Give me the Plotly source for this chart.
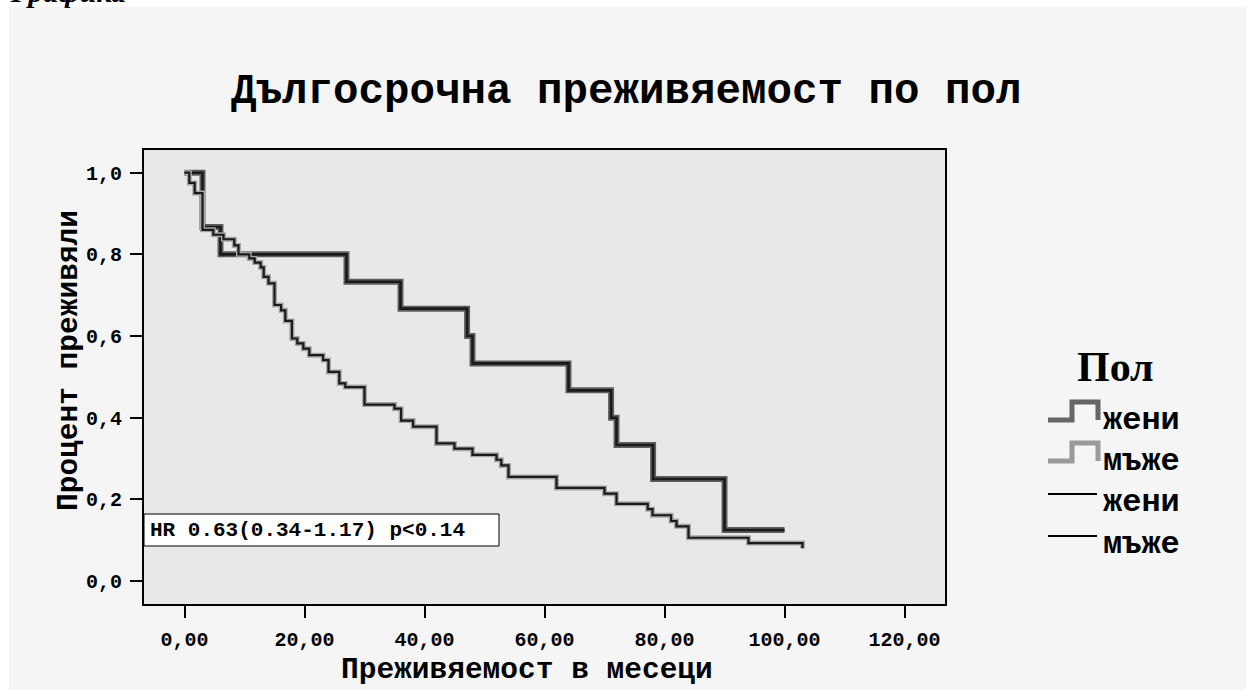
import plotly.graph_objects as go

# Kaplan–Meier survival by sex: month of each step and survival after it
women_months = [0, 3.0, 6.0, 27.0, 36.0, 47.1, 48.0, 64.0, 71.1, 72.0, 78.1, 90.0, 100.0]
women_surv = [1.0, 0.867, 0.800, 0.733, 0.667, 0.600, 0.533, 0.467, 0.400, 0.333, 0.250, 0.125, 0.125]

men_months = [0, 0.8, 1.7, 3.0, 4.8, 6.5, 8.3, 9.0, 10.8, 11.7, 12.7, 13.2, 14.0, 15.0,
              16.1, 16.8, 17.9, 18.8, 19.8, 20.8, 23.1, 24.0, 25.8, 26.8, 30.0, 35.0,
              36.1, 38.1, 42.0, 45.0, 48.0, 52.0, 52.8, 54.0, 62.0, 70.0, 72.0, 77.2,
              78.0, 81.1, 82.0, 84.0, 94.0, 103.0]
men_surv = [1.0, 0.975, 0.950, 0.860, 0.848, 0.837, 0.822, 0.800, 0.790, 0.780, 0.768,
            0.745, 0.729, 0.676, 0.663, 0.637, 0.594, 0.582, 0.569, 0.553, 0.541, 0.512,
            0.484, 0.475, 0.432, 0.422, 0.393, 0.378, 0.337, 0.324, 0.309, 0.297, 0.283,
            0.255, 0.228, 0.214, 0.189, 0.176, 0.161, 0.147, 0.134, 0.106, 0.093, 0.080]

x_ticks = [0, 20, 40, 60, 80, 100, 120]
x_tick_text = ["0,00", "20,00", "40,00", "60,00", "80,00", "100,00", "120,00"]
y_ticks = [0, 0.2, 0.4, 0.6, 0.8, 1.0]
y_tick_text = ["0,0", "0,2", "0,4", "0,6", "0,8", "1,0"]

title_text = "Дългосрочна преживяемост по пол"
x_title = "Преживяемост в месеци"
y_title = "Процент преживяли"
legend_title = "Пол"
legend_labels = ["жени", "мъже", "жени", "мъже"]
hr_text = "HR 0.63(0.34-1.17) p&lt;0.14"

MONO = "Liberation Mono, Courier New, monospace"
SERIF = "Liberation Serif, Times New Roman, serif"

W, H = 1246, 690
PLOT_L, PLOT_T, PLOT_R, PLOT_B = 144, 150, 945, 604
PLOT_W, PLOT_H = PLOT_R - PLOT_L, PLOT_B - PLOT_T


def px(x):
    return (x - PLOT_L) / PLOT_W


def py(y):
    return 1 - (y - PLOT_T) / PLOT_H


fig = go.Figure()

# each curve: a grey halo under a dark core line
for months, surv, halo, halo_w, core_w in [
    (women_months, women_surv, "#5e5e5e", 6, 2.6),
    (men_months, men_surv, "#a6a6a6", 5, 2.2),
]:
    fig.add_trace(go.Scatter(x=months, y=surv, mode="lines", line=dict(shape="hv", color=halo, width=halo_w),
                             hoverinfo="skip", showlegend=False))
    fig.add_trace(go.Scatter(x=months, y=surv, mode="lines", line=dict(shape="hv", color="#1a1a1a", width=core_w),
                             hoverinfo="skip", showlegend=False))

axis_common = dict(
    showline=True, mirror=True, linecolor="black", linewidth=2,
    ticks="outside", ticklen=12, tickwidth=2, tickcolor="black",
    showgrid=False, zeroline=False, ticklabelstandoff=4,
    tickfont=dict(family=MONO, size=20, color="black", weight="bold"),
)

shapes = [
    # white margin strips along the top and left edges
    dict(type="rect", xref="paper", yref="paper", x0=px(0), x1=px(W), y0=py(7), y1=py(-2),
         fillcolor="white", line_width=0, layer="below"),
    dict(type="rect", xref="paper", yref="paper", x0=px(-2), x1=px(9), y0=py(H + 2), y1=py(-2),
         fillcolor="white", line_width=0, layer="below"),
    # HR box
    dict(type="rect", xref="paper", yref="paper", x0=px(144), x1=px(499), y0=py(546), y1=py(514),
         fillcolor="white", line=dict(color="black", width=1), layer="above"),
]

annotations = [
    dict(text=title_text, xref="paper", yref="paper", x=px(626), y=py(92), xanchor="center", yanchor="middle",
         showarrow=False, font=dict(family=MONO, size=42.5, color="black", weight="bold")),
    dict(text=x_title, xref="paper", yref="paper", x=px(527), y=py(670), xanchor="center", yanchor="middle",
         showarrow=False, font=dict(family=MONO, size=29.5, color="black", weight="bold")),
    dict(text=y_title, xref="paper", yref="paper", x=px(69), y=py(361), xanchor="center", yanchor="middle",
         textangle=-90, showarrow=False, font=dict(family=MONO, size=29.5, color="black", weight="bold")),
    dict(text=hr_text, xref="paper", yref="paper", x=px(148), y=py(530), xanchor="left", yanchor="middle",
         showarrow=False, font=dict(family=MONO, size=21, color="black", weight="bold")),
    dict(text=legend_title, xref="paper", yref="paper", x=px(1075), y=py(367), xanchor="left", yanchor="middle",
         showarrow=False, font=dict(family=SERIF, size=42, color="black", weight="bold")),
    dict(text="Графика", xref="paper", yref="paper", x=px(8), y=py(-9), xanchor="left", yanchor="middle",
         showarrow=False, font=dict(family=SERIF, size=30, color="black", weight="bold", style="italic")),
]

# legend rows: step icons for the two survival curves, plain lines for the censor keys
legend_base = [426, 467, 508, 550]
icon_colors = ["#666666", "#9a9a9a"]
for i, label in enumerate(legend_labels):
    base = legend_base[i]
    annotations.append(dict(text=label, xref="paper", yref="paper", x=px(1101), y=py(base - 6),
                            xanchor="left", yanchor="middle", showarrow=False,
                            font=dict(family=MONO, size=32, color="black", weight="bold")))
    if i < 2:
        low, high = base - 6, base - 24
        path = (f"M {px(1048)} {py(low)} L {px(1072)} {py(low)} L {px(1072)} {py(high)} "
                f"L {px(1098)} {py(high)} L {px(1098)} {py(low)}")
        shapes.append(dict(type="path", xref="paper", yref="paper", path=path,
                           line=dict(color=icon_colors[i], width=5), layer="above"))
    else:
        yl = base - 14
        shapes.append(dict(type="line", xref="paper", yref="paper", x0=px(1048), x1=px(1097),
                           y0=py(yl), y1=py(yl), line=dict(color="black", width=2), layer="above"))

fig.update_layout(
    width=W, height=H,
    margin=dict(l=PLOT_L, r=W - PLOT_R, t=PLOT_T, b=H - PLOT_B, pad=0),
    paper_bgcolor="#f5f5f5", plot_bgcolor="#e8e8e8",
    xaxis=dict(range=[-6.75, 126.75], tickvals=x_ticks, ticktext=x_tick_text, **axis_common),
    yaxis=dict(range=[-0.0563, 1.0556], tickvals=y_ticks, ticktext=y_tick_text, **axis_common),
    shapes=shapes, annotations=annotations, showlegend=False,
)

fig.write_html("out.html")
